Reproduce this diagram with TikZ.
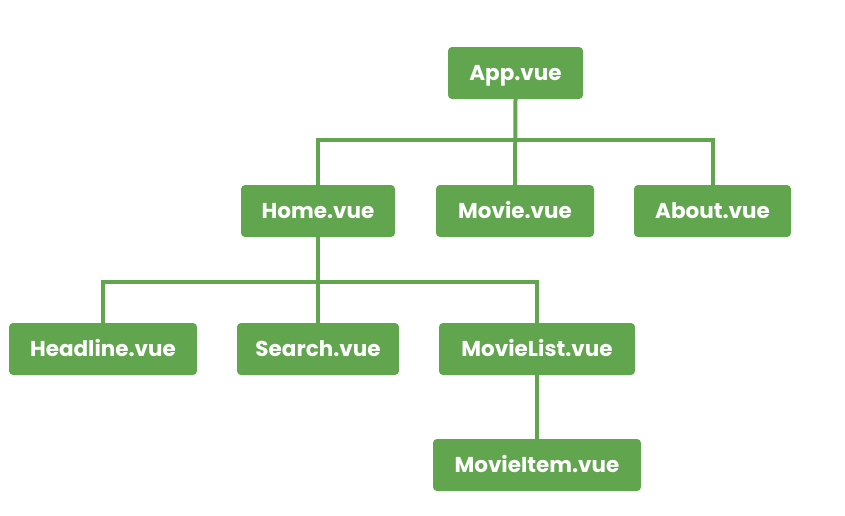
\documentclass[tikz,border=0pt]{standalone}
\usepackage{fontspec}
\setmainfont{Poppins}
\begin{document}
\begin{tikzpicture}[x=1pt,y=-1pt,
  comp/.style={fill=vuegreen, rounded corners=4pt, minimum height=52pt,
    inner sep=0pt, text height=17pt, text depth=2pt, text=white,
    font=\fontsize{21.5}{24}\selectfont\bfseries},
  link/.style={draw=vuegreen, line width=4pt}]
\definecolor{vuegreen}{HTML}{62A54F}
\useasboundingbox (0,0) rectangle (845,515);
% component boxes
\node[comp, minimum width=135pt] (app) at (515.5,73) {App.vue};
\node[comp, minimum width=154pt] (home) at (318,211) {Home.vue};
\node[comp, minimum width=158pt] (movie) at (515,211) {Movie.vue};
\node[comp, minimum width=157pt] (about) at (712.5,211) {About.vue};
\node[comp, minimum width=188pt] (headline) at (103,349) {Headline.vue};
\node[comp, minimum width=162pt] (search) at (318,349) {Search.vue};
\node[comp, minimum width=196pt] (movielist) at (537,349) {MovieList.vue};
\node[comp, minimum width=208pt] (movieitem) at (537,465) {MovieItem.vue};
% bus lines
\coordinate (busA) at (0,140);
\coordinate (busB) at (0,282);
\draw[link] (app.south) -- (movie.north);
\draw[link] (home.north) |- (about.north |- busA) -- (about.north);
\draw[link] (home.south) -- (search.north);
\draw[link] (headline.north) |- (movielist.north |- busB) -- (movielist.north);
\draw[link] (movielist.south) -- (movieitem.north);
\end{tikzpicture}
\end{document}
